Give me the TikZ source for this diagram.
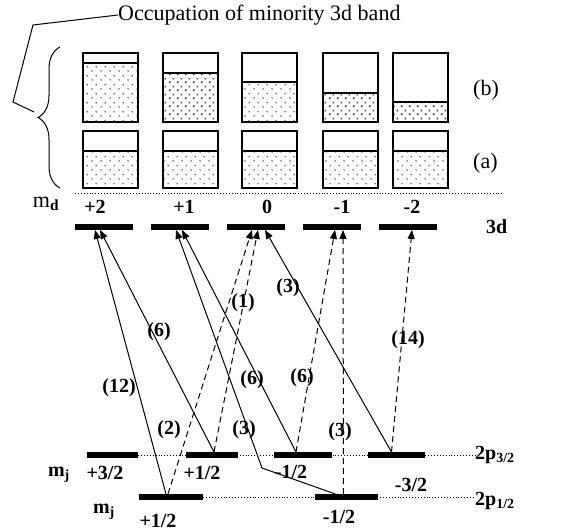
\documentclass[tikz,border=0pt]{standalone}
\usepackage{fontspec}
\setmainfont{Liberation Serif}
\usetikzlibrary{arrows.meta,patterns.meta,decorations.pathreplacing}

\tikzdeclarepattern{
  name=finedots,
  type=uncolored,
  bounding box={(0pt,0pt) and (9pt,9pt)},
  tile size={(9pt,9pt)},
  code={
    \fill (2.25pt,2.25pt) circle (0.85pt);
    \fill (6.75pt,6.75pt) circle (0.85pt);
  }
}
\tikzdeclarepattern{
  name=coarsedots,
  type=uncolored,
  bounding box={(0pt,0pt) and (8pt,8pt)},
  tile size={(8pt,8pt)},
  code={
    \fill (1pt,1pt) rectangle (2.8pt,2.8pt);
    \fill (5pt,5pt) rectangle (6.8pt,6.8pt);
  }
}

\begin{document}
\begin{tikzpicture}[x=1pt,y=-1pt,
    lvl/.style={fill=black,inner sep=0pt,minimum height=5.5pt},
    lab/.style={font=\fontsize{20}{22}\selectfont\bfseries,inner sep=0pt},
    txt/.style={font=\fontsize{22}{24}\selectfont,inner sep=0pt},
    tr/.style={line width=1pt,-{Triangle[length=9pt,width=7pt]}},
    dtr/.style={tr,dash pattern=on 6pt off 4pt}]
  \useasboundingbox (0,0) rectangle (566,532);

  % occupation boxes, row (b) then row (a)
  \foreach \xl/\yf/\pat in {83/63/finedots,163/73/coarsedots,242/82/finedots,323/93/coarsedots,393/102/coarsedots}{
    \fill[pattern=\pat,pattern color=black!75] (\xl,\yf) rectangle (\xl+55,122);
    \draw[line width=1.8pt] (\xl,53) rectangle (\xl+55,122);
    \draw[line width=1.5pt] (\xl,\yf) -- (\xl+55,\yf);
    \fill[pattern=finedots,pattern color=black!75] (\xl,151) rectangle (\xl+55,188);
    \draw[line width=1.8pt] (\xl,131) rectangle (\xl+55,188);
    \draw[line width=1.5pt] (\xl,151) -- (\xl+55,151);
  }
  \node[txt,anchor=west] (rowb) at (473,90) {(b)};
  \node[txt,anchor=west] (rowa) at (473,163) {(a)};

  \node[txt,anchor=west] (title) at (118,15) {Occupation of minority 3d band};
  \draw[line width=1pt,decorate,decoration={brace,amplitude=22pt}] (60,188) -- (60,47);
  \coordinate (btip) at (34,112);
  \draw[line width=1pt] (title.west) -- (33,25) -- (13,102) -- (btip);

  \draw[dotted,line width=0.9pt] (75,193) -- (503,193);

  % 3d levels
  \node[txt] (md) at (46,204) {m\textsubscript{\textbf{d}}};
  \foreach \nm/\xc in {d2/104,d1/180,d0/256,dm1/332,dm2/408}{
    \node[lvl,minimum width=58pt] (\nm) at (\xc,227) {};
  }
  \node[lab] (md2) at (95,207) {+2};
  \node[lab] (md1) at (184,207) {+1};
  \node[lab] (md0) at (267,207) {0};
  \node[lab] (mdm1) at (342,207) {-1};
  \node[lab] (mdm2) at (412,207) {-2};
  \node[lab,anchor=west] (band3d) at (486,227) {3d};

  % 2p levels
  \node[lvl,minimum width=51pt] (pA) at (112.5,455) {};
  \node[lvl,minimum width=52pt] (pB) at (212,455) {};
  \node[lvl,minimum width=58pt] (pC) at (303,455) {};
  \node[lvl,minimum width=57pt] (pD) at (396.5,455) {};
  \node[lvl,minimum width=64pt] (pE) at (171,497) {};
  \node[lvl,minimum width=63pt] (pF) at (346.5,497) {};
  \node[lab,anchor=west] (p32) at (475,455) {2p\textsubscript{3/2}};
  \node[lab,anchor=west] (p12) at (475,501) {2p\textsubscript{1/2}};
  \draw[dotted,line width=0.9pt] (pA.east) -- (p32.west);
  \draw[dotted,line width=0.9pt] (pE.east) -- (pE.east -| p12.west);

  \node[lab] (mj1) at (59,475) {m\textsubscript{j}};
  \node[lab] (mjA) at (105,473) {+3/2};
  \node[lab] (mjB) at (202,473) {+1/2};
  \node[lab] (mjC) at (291,472) {-1/2};
  \node[lab] (mjD) at (411,485) {-3/2};
  \node[lab] (mj2) at (104,512) {m\textsubscript{j}};
  \node[lab] (mjE) at (158,521) {+1/2};
  \node[lab] (mjF) at (339,517) {-1/2};

  % transitions
  \coordinate (kink) at (262,468);
  \draw[tr] ([xshift=-5pt]pE.north) -- ([xshift=-9pt]d2.south);
  \draw[dtr] ([xshift=-3pt]pE.north) -- ([xshift=-4pt]d0.south);
  \draw[tr] ([xshift=2pt]pB.north) -- ([xshift=-4pt]d2.south);
  \draw[dtr] ([xshift=2pt]pB.north) -- ([xshift=2pt]d0.south);
  \draw[tr] ([xshift=-7pt]pC.north) -- ([xshift=2pt]d1.south);
  \draw[dtr] ([xshift=-7pt]pC.north) -- ([xshift=3pt]dm1.south);
  \draw[tr] ([xshift=-5pt]pD.north) -- ([xshift=9pt]d0.south);
  \draw[dtr] ([xshift=-5pt]pD.north) -- ([xshift=4pt]dm2.south);
  \draw[tr] ([xshift=-11pt]pF.north) -- (kink) -- ([xshift=-4pt]d1.south);
  \draw[dtr] ([xshift=-3pt]pF.north) -- ([xshift=11pt]dm1.south);

  % relative intensities
  \node[lab] (w12) at (119,388) {(12)};
  \node[lab] (w2) at (169,430) {(2)};
  \node[lab] (w6a) at (159,332) {(6)};
  \node[lab] (w1) at (243,303) {(1)};
  \node[lab] (w6b) at (252,380) {(6)};
  \node[lab] (w6c) at (302,378) {(6)};
  \node[lab] (w3a) at (288,288) {(3)};
  \node[lab] (w14) at (408,340) {(14)};
  \node[lab] (w3b) at (244,430) {(3)};
  \node[lab] (w3c) at (340,432) {(3)};
\end{tikzpicture}
\end{document}
